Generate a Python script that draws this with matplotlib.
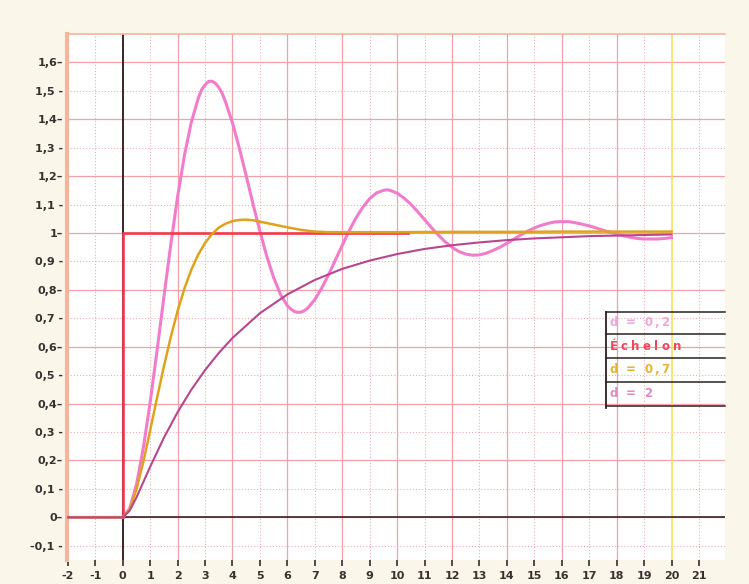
import matplotlib
matplotlib.use("Agg")
import matplotlib.pyplot as plt
from matplotlib.ticker import FixedLocator, FixedFormatter
from matplotlib.transforms import offset_copy

# Step responses of a second-order system (w0 = 1) for three damping ratios
t_d02 = [-2.0,
         0.0, 0.25, 0.5, 0.75, 1.0, 1.25, 1.5, 1.75, 2.0, 2.25, 2.5, 2.75, 2.875,
         3.0, 3.125, 3.25, 3.375, 3.5, 3.625, 3.75, 4.0, 4.25, 4.5, 4.75, 5.0, 5.25, 5.5, 5.75,
         6.0, 6.125, 6.25, 6.375, 6.5, 6.625, 6.75, 7.0, 7.25, 7.5, 7.75, 8.0, 8.25, 8.5, 8.75,
         9.0, 9.25, 9.5, 9.625, 9.75, 10.0, 10.25, 10.5, 10.75, 11.0, 11.25, 11.5, 11.75,
         12.0, 12.25, 12.5, 12.75, 13.0, 13.25, 13.5, 13.75, 14.0, 14.25, 14.5, 14.75,
         15.0, 15.25, 15.5, 15.75, 16.0, 16.25, 16.5, 16.75, 17.0, 17.25, 17.5, 17.75,
         18.0, 18.25, 18.5, 18.75, 19.0, 19.25, 19.5, 19.75, 20.0]
y_d02 = [0.0,
         0.000, 0.030, 0.115, 0.244, 0.405, 0.586, 0.775, 0.959, 1.128, 1.274, 1.390, 1.473, 1.504,
         1.521, 1.533, 1.534, 1.527, 1.512, 1.491, 1.460, 1.387, 1.298, 1.201, 1.101, 1.006, 0.918, 0.843, 0.784,
         0.744, 0.733, 0.724, 0.721, 0.722, 0.727, 0.737, 0.766, 0.806, 0.853, 0.905, 0.957, 1.008, 1.053, 1.091,
         1.121, 1.141, 1.150, 1.152, 1.150, 1.140, 1.123, 1.101, 1.075, 1.047, 1.019, 0.993, 0.969,
         0.950, 0.935, 0.926, 0.922, 0.923, 0.929, 0.939, 0.950, 0.964, 0.978, 0.993, 1.006,
         1.018, 1.027, 1.034, 1.039, 1.040, 1.040, 1.036, 1.031, 1.025, 1.018, 1.010, 1.003,
         0.996, 0.990, 0.985, 0.981, 0.979, 0.979, 0.979, 0.981, 0.984]

t_d07 = [-2.0,
         0.0, 0.25, 0.5, 0.75, 1.0, 1.25, 1.5, 1.75, 2.0, 2.25, 2.5, 2.75,
         3.0, 3.25, 3.5, 3.75, 4.0, 4.25, 4.5, 4.75, 5.0,
         5.5, 6.0, 6.5, 7.0, 7.5, 8.0, 9.0, 10.0, 12.0, 14.0, 16.0, 18.0, 20.0]
y_d07 = [0.0,
         0.000, 0.028, 0.098, 0.195, 0.306, 0.420, 0.531, 0.634, 0.726, 0.805, 0.871, 0.924,
         0.965, 0.996, 1.019, 1.033, 1.042, 1.046, 1.047, 1.045, 1.040,
         1.030, 1.020, 1.011, 1.005, 1.003, 1.003, 1.003, 1.003, 1.004, 1.004, 1.005, 1.005, 1.005]

t_d2 = [-2.0, 0.0, 0.25, 0.5, 1.0, 1.5, 2.0, 2.5, 3.0, 3.5, 4.0, 5.0, 6.0, 7.0, 8.0,
        9.0, 10.0, 11.0, 12.0, 13.0, 14.0, 15.0, 16.0, 17.0, 18.0, 19.0, 20.0]
y_d2 = [0.0, 0.000, 0.023, 0.070, 0.178, 0.280, 0.370, 0.449, 0.518, 0.578, 0.631, 0.718,
        0.784, 0.835, 0.874, 0.903, 0.926, 0.944, 0.957, 0.967, 0.975, 0.981, 0.985,
        0.989, 0.991, 0.993, 0.995]

# Unit step input
t_step = [0.0, 0.0, 10.4]
y_step = [0.0, 1.0, 1.0]

x_ticks = list(range(-2, 22))
y_ticks = [-0.1, 0.0, 0.1, 0.2, 0.3, 0.4, 0.5, 0.6, 0.7, 0.8, 0.9, 1.0,
           1.1, 1.2, 1.3, 1.4, 1.5, 1.6]
y_tick_labels = ["-0,1 -", "0\u2013", "0,1 -", "0,2\u2013", "0,3 -", "0,4\u2013",
                 "0,5 -", "0,6\u2013", "0,7 -", "0,8\u2013", "0,9 -", "1\u2013",
                 "1,1 -", "1,2\u2013", "1,3 -", "1,4\u2013", "1,5 -", "1,6\u2013"]

legend_labels = ["d = 0,2", "\u00c9chelon", "d = 0,7", "d = 2"]

C_PINK = "#f27ccb"
C_RED = "#f23a4e"
C_GOLD = "#e0a21c"
C_PURPLE = "#b8468f"
LEGEND_COLORS = ["#f3a6d6", "#f0485a", "#e8b52c", "#e08cc4"]
LEGEND_TRACKING = [2.3, 3.3, 2.3, 2.3]

plt.rcParams["font.family"] = ["DejaVu Sans"]

fig = plt.figure(figsize=(7.49, 5.84), dpi=100, facecolor="#fbf6ea")
ax = fig.add_axes([0.0895, 0.0411, 0.8785, 0.9007])
ax.set_facecolor("white")
ax.set_xlim(-2.03, 21.95)
ax.set_ylim(-0.15, 1.70)

# Graph-paper style grid: solid every 2 s / 0.2, dotted in between
for x in range(0, 22, 2):
    if x not in (0, 20):
        ax.axvline(x, color="#f3a0a8", lw=0.9, zorder=1)
for x in range(-1, 22, 2):
    ax.axvline(x, color="#ebaeb3", lw=0.8, ls=(0, (1.0, 1.8)), zorder=1)
for k in range(-1, 17):
    y = k / 10
    if k % 2 == 0:
        ax.axhline(y, color="#f3a0a8", lw=0.9, zorder=1)
    else:
        ax.axhline(y, color="#ebaeb3", lw=0.8, ls=(0, (1.0, 1.8)), zorder=1)

ax.axvline(20, color="#f6e35a", lw=1.2, zorder=1.5)
ax.axvline(0, color="#3b2426", lw=1.4, zorder=2)
ax.hlines(0, 0, 21.95, color="#3b2426", lw=1.2, zorder=2)

# Curves
ax.plot(t_d02, y_d02, color=C_PINK, lw=2.2, zorder=3, solid_joinstyle="round")
ax.plot(t_step, y_step, color=C_RED, lw=1.9, zorder=4)
ax.plot(t_d07, y_d07, color=C_GOLD, lw=1.8, zorder=5, solid_joinstyle="round")
ax.plot(t_d2, y_d2, color=C_PURPLE, lw=1.5, zorder=6, solid_joinstyle="round")

# Frame
for side in ("right", "bottom"):
    ax.spines[side].set_visible(False)
ax.spines["left"].set_color("#f7b49c")
ax.spines["left"].set_linewidth(3.0)
ax.spines["top"].set_color("#f7b49c")
ax.spines["top"].set_linewidth(1.2)

ax.xaxis.set_major_locator(FixedLocator(x_ticks))
ax.set_xticklabels([str(v) for v in x_ticks])
ax.tick_params(axis="x", direction="out", length=4, width=1.3, color="#4a3a3a",
               pad=4, labelsize=8, labelcolor="#3a3030")
ax.yaxis.set_major_locator(FixedLocator(y_ticks))
ax.yaxis.set_major_formatter(FixedFormatter(y_tick_labels))
ax.tick_params(axis="y", length=0, pad=3, labelsize=8, labelcolor="#3a3030")
for lab in ax.get_xticklabels() + ax.get_yticklabels():
    lab.set_fontweight("bold")

# Legend table
x0, x1 = 0.8187, 1.0
rows = [0.4720, 0.4297, 0.3835, 0.3390, 0.2928]
for yr in rows:
    ax.plot([x0, x1], [yr, yr], transform=ax.transAxes, color="#2a2020",
            lw=1.1, zorder=7, clip_on=False)
ax.plot([x0, x0], [rows[0], rows[-1] - 0.004], transform=ax.transAxes,
        color="#2a2020", lw=1.3, zorder=7, clip_on=False)

renderer = fig.canvas.get_renderer()


def spaced_text(xf, yf, s, tracking, size, **kw):
    """Draw a string character by character with extra letter spacing (pixels)."""
    dx = 0.0
    for ch in s:
        tr = offset_copy(ax.transAxes, fig=fig, x=dx, y=0, units="dots")
        t = ax.text(xf, yf, ch, transform=tr, fontsize=size, va="center",
                    ha="left", zorder=8, **kw)
        if ch == " ":
            w = size * fig.dpi / 72 * 0.30
        else:
            w = t.get_window_extent(renderer).width
        dx += w + tracking


for i, (label, col) in enumerate(zip(legend_labels, LEGEND_COLORS)):
    ymid = (rows[i] + rows[i + 1]) / 2
    spaced_text(x0 + 0.006, ymid, label, LEGEND_TRACKING[i], 8.5,
                color=col, fontweight="bold")

fig.savefig("out.png", dpi=100, facecolor=fig.get_facecolor())
